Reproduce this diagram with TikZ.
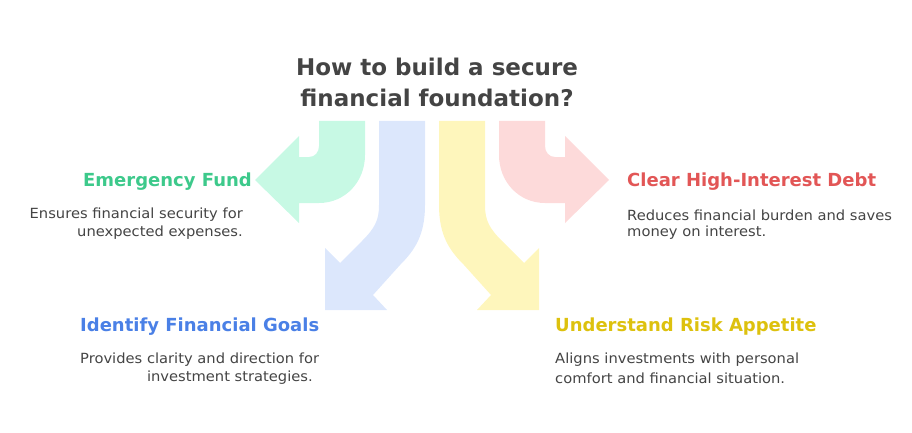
\documentclass[tikz,border=0pt]{standalone}
\usepackage{fontspec}
\setmainfont{DejaVu Sans}
\usepackage{tikz}

\definecolor{fundgreen}{HTML}{C7F9E4}
\definecolor{goalblue}{HTML}{DCE7FC}
\definecolor{riskyellow}{HTML}{FEF6BC}
\definecolor{debtred}{HTML}{FDDADA}
\definecolor{fundtext}{HTML}{3DC98B}
\definecolor{goaltext}{HTML}{4A80E6}
\definecolor{risktext}{HTML}{DDC10E}
\definecolor{debttext}{HTML}{E25656}
\definecolor{inktext}{HTML}{444444}

\tikzset{
  heading/.style={font=\bfseries\fontsize{18}{20}\selectfont, inner sep=0pt},
  desc/.style={font=\fontsize{14}{16}\selectfont, text=inktext, inner sep=0pt, xscale=1.05},
}

\begin{document}
\begin{tikzpicture}[x=1pt,y=-1pt]
    \useasboundingbox (0,0) rectangle (912,433);

    % arrows
    \fill[fundgreen] (319,121) -- (365,121) -- (365,155) .. controls (365,182) and (345,203) .. (319,203)
        -- (299,203) -- (299,223) -- (255,180) -- (299,136) -- (299,157) -- (309,157)
        .. controls (315,157) and (319,152) .. (319,146) -- cycle;
    \fill[debtred] (545,121) -- (499,121) -- (499,155) .. controls (499,182) and (519,203) .. (545,203)
        -- (565,203) -- (565,223) -- (609,180) -- (565,136) -- (565,157) -- (555,157)
        .. controls (549,157) and (545,152) .. (545,146) -- cycle;
    \fill[goalblue] (379,121) -- (425,121) -- (425,205) .. controls (425,235) and (415,250) .. (400,265)
        -- (373,295) -- (387,310) -- (325,310) -- (325,248) -- (340,263) -- (362,241)
        .. controls (375,228) and (379,220) .. (379,205) -- cycle;
    \fill[riskyellow] (485,121) -- (439,121) -- (439,205) .. controls (439,235) and (449,250) .. (464,265)
        -- (491,295) -- (477,310) -- (539,310) -- (539,248) -- (524,263) -- (502,241)
        .. controls (489,228) and (485,220) .. (485,205) -- cycle;

    % title
    \node[font=\bfseries\fontsize{23}{31}\selectfont, text=inktext, align=center] (title) at (437,82)
        {How to build a secure\\ financial foundation?};

    % emergency fund
    \node[heading, text=fundtext, anchor=east] (fund) at (252,182) {Emergency Fund};
    \node[desc, anchor=east] (fund1) at (243,215) {Ensures financial security for};
    \node[desc, anchor=east] (fund2) at (243,233) {unexpected expenses.};

    % debt
    \node[heading, text=debttext, anchor=west] (debt) at (627,182) {Clear High-Interest Debt};
    \node[desc, anchor=west] (debt1) at (627,215) {Reduces financial burden and saves};
    \node[desc, anchor=west] (debt2) at (627,233) {money on interest.};

    % goals
    \node[heading, text=goaltext, anchor=west] (goals) at (80,327) {Identify Financial Goals};
    \node[desc, anchor=west] (goals1) at (80,360) {Provides clarity and direction for};
    \node[desc, anchor=east] (goals2) at (313,378) {investment strategies.};

    % risk
    \node[heading, text=risktext, anchor=west] (risk) at (555,327) {Understand Risk Appetite};
    \node[desc, anchor=west] (risk1) at (555,360) {Aligns investments with personal};
    \node[desc, anchor=west] (risk2) at (555,378) {comfort and financial situation.};
\end{tikzpicture}
\end{document}
